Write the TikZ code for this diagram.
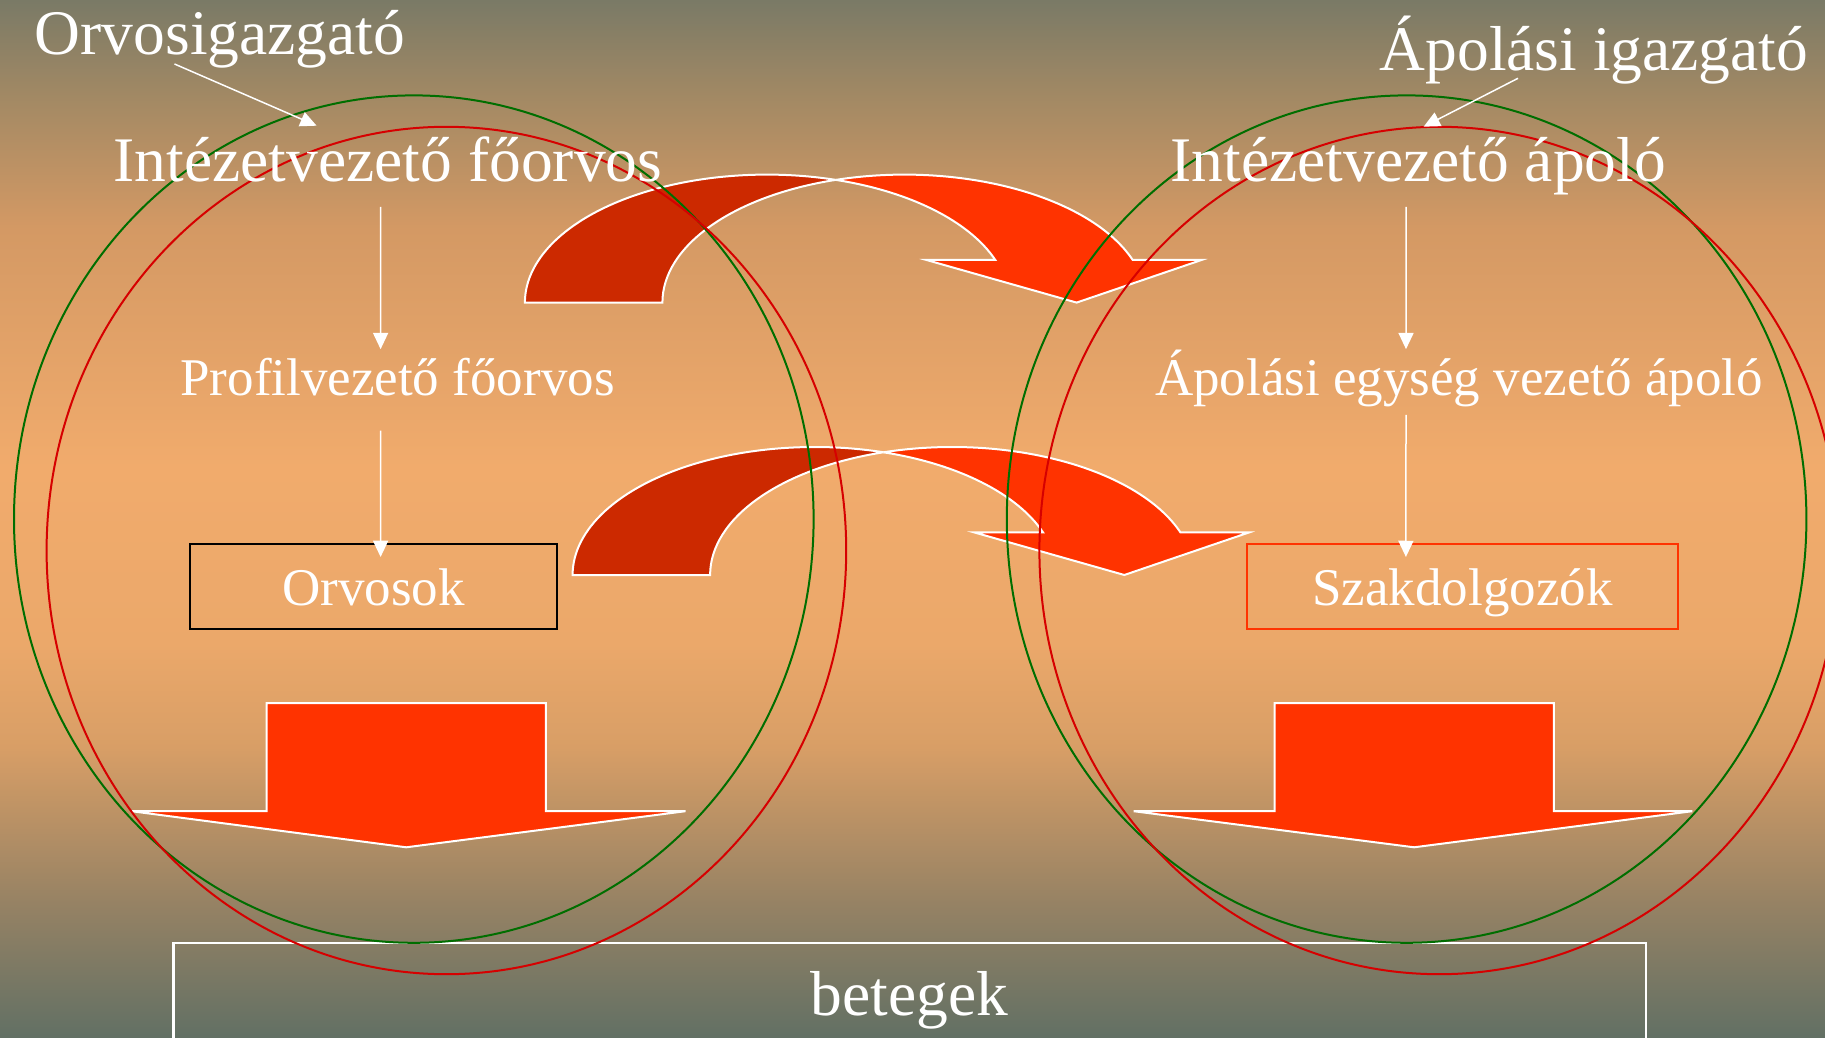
\documentclass[tikz,border=0pt]{standalone}
\usepackage{fontspec}
\setmainfont{Liberation Serif}
\usetikzlibrary{arrows.meta}
\definecolor{bandDark}{RGB}{204,41,0}
\definecolor{bandBright}{RGB}{255,51,0}
\definecolor{ringGreen}{RGB}{0,110,0}
\definecolor{ringRed}{RGB}{214,0,0}
\pgfdeclareverticalshading{bgshade}{100bp}{rgb(0bp)=(0.384,0.439,0.392); rgb(25bp)=(0.384,0.439,0.392); rgb(31.5bp)=(0.588,0.51,0.392); rgb(39bp)=(0.847,0.62,0.4); rgb(44bp)=(0.922,0.659,0.416); rgb(52.5bp)=(0.945,0.671,0.424); rgb(64bp)=(0.831,0.6,0.392); rgb(70bp)=(0.647,0.541,0.392); rgb(75bp)=(0.478,0.478,0.4); rgb(100bp)=(0.478,0.478,0.4)}
\newcommand\mycurvedarrow{%
  \filldraw[bandstyle,fill=bandDark] (-242.1,0) arc[start angle=180,end angle=286.5,x radius=242.1,y radius=128]
    arc[start angle=253.5,end angle=180,x radius=242.1,y radius=128] -- cycle;
  \filldraw[bandstyle,fill=bandBright] (68.7,-122.7) arc[start angle=253.5,end angle=340.55,x radius=242.1,y radius=128]
    -- (434.5,-42.6) -- (309.6,0) -- (159.5,-42.6) -- (228.3,-42.6)
    arc[start angle=340.55,end angle=286.5,x radius=242.1,y radius=128] -- cycle;
}
\tikzset{
  bigtext/.style={text=white,font=\fontsize{25.4}{30}\selectfont,inner sep=0pt,anchor=base},
  midtext/.style={text=white,font=\fontsize{21.2}{25}\selectfont,inner sep=0pt,anchor=base},
  conn/.style={draw=white,line width=0.6pt,-{Triangle[length=6.5pt,width=6pt]}},
  ring/.style={line width=0.8pt},
  bandstyle/.style={draw=white,line width=0.8pt},
  blockarrow/.style={fill=bandBright,draw=white,line width=0.8pt},
  boxnode/.style={line width=0.8pt,minimum height=34pt,text height=15.2pt,text depth=0pt,inner sep=0pt,text=white,font=\fontsize{21.2}{25}\selectfont}
}
\begin{document}
\begin{tikzpicture}[x=0.4pt,y=-0.4pt]
\shade[shading=bgshade] (0,0) rectangle (1825,1038);
\useasboundingbox (0,0) rectangle (1825,1038);
% curved arrows
\begin{scope}[shift={(767,302.6)}]
  \mycurvedarrow
\end{scope}
\begin{scope}[shift={(814.7,575)}]
  \mycurvedarrow
\end{scope}
% block arrows
\filldraw[blockarrow] (266.5,703) -- (545.9,703) -- (545.9,811.2) -- (685.5,811.2) -- (406.2,847.3) -- (131.5,811.2) -- (266.5,811.2) -- cycle;
\filldraw[blockarrow] (1274.5,703) -- (1553.8,703) -- (1553.8,811.2) -- (1692.3,811.2) -- (1414.1,847.3) -- (1133.6,811.2) -- (1274.5,811.2) -- cycle;
% betegek
\node[draw=white,line width=1pt,minimum width=589pt,minimum height=58.8pt,inner sep=0pt,text height=8pt,text depth=9.2pt,text=white,font=\fontsize{25.4}{30}\selectfont] (betegek) at (909.6,1016.5) {betegek};
% rings
\draw[ring,ringGreen] (413.8,519.1) ellipse [x radius=399.8,y radius=423.7];
\draw[ring,ringRed] (446.4,550.5) ellipse [x radius=399.8,y radius=423.7];
\draw[ring,ringGreen] (1406.6,519.1) ellipse [x radius=399.8,y radius=423.7];
\draw[ring,ringRed] (1439.2,550.5) ellipse [x radius=399.8,y radius=423.7];
% boxes
\node[boxnode,draw=black,minimum width=147.1pt] (orvosok) at (373.6,586) {Orvosok};
\node[boxnode,draw=bandBright,minimum width=172.7pt] (szak) at (1462.4,586) {Szakdolgozók};
% texts
\node[bigtext] (orvig) at (220,55) {Orvosigazgató};
\node[bigtext] (apig) at (1594,70.7) {Ápolási igazgató};
\node[bigtext] (intL) at (388,181.7) {Intézetvezető főorvos};
\node[bigtext] (intR) at (1418.2,181.7) {Intézetvezető ápoló};
\node[midtext] (profL) at (397.5,395.7) {Profilvezető főorvos};
\node[midtext] (profR) at (1459,395.7) {Ápolási egység vezető ápoló};
\coordinate (tipL) at (316.6,125.7);
\coordinate (tipR) at (1423.6,126.7);
% connectors
\draw[conn] ([xshift=-18.2pt,yshift=-3.6pt]orvig.base) -- (tipL);
\draw[conn] ([xshift=-30.4pt,yshift=-3.04pt]apig.base) -- (tipR);
\draw[conn] ([xshift=-2.96pt,yshift=-10.12pt]intL.base) -- ([xshift=-6.76pt,yshift=18.6pt]profL.base);
\draw[conn] ([xshift=-6.76pt,yshift=-14pt]profL.base) -- ([xshift=2.8pt,yshift=-5.8pt]orvosok.north);
\draw[conn] ([xshift=-4.8pt,yshift=-10.12pt]intR.base) -- ([xshift=-21.2pt,yshift=18.6pt]profR.base);
\draw[conn] ([xshift=-21.2pt,yshift=-7.7pt]profR.base) -- ([xshift=-22.6pt,yshift=-5.8pt]szak.north);
\end{tikzpicture}
\end{document}
